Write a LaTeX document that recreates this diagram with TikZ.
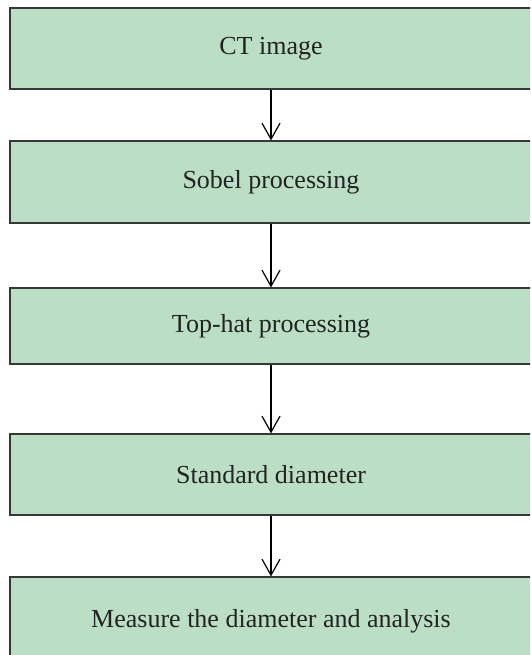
\documentclass[tikz,border=0pt]{standalone}
\usepackage{fontspec}
\setmainfont{Liberation Serif}
\usetikzlibrary{arrows.meta}
\definecolor{boxgreen}{RGB}{186,223,197}
\definecolor{boxline}{RGB}{55,55,55}
\definecolor{textgray}{RGB}{35,35,35}

\begin{document}
\begin{tikzpicture}[x=1pt,y=1pt,
        stepbox/.style={shape=rectangle,draw=boxline,fill=boxgreen,line width=1.2pt,
            minimum width=522pt,inner sep=0pt,text=textgray,font=\fontsize{26}{30}\selectfont},
        flow/.style={-{Straight Barb[length=16pt,width=18pt]},line width=1.2pt,black}]
        \clip (0,0) rectangle (530,-655);

        \node[stepbox,minimum height=81pt] (ct)      at (271,-48.5) {CT image};
        \node[stepbox,minimum height=82pt] (sobel)   at (271,-182)  {Sobel processing};
        \node[stepbox,minimum height=76pt] (tophat)  at (271,-326)  {Top-hat processing};
        \node[stepbox,minimum height=81pt] (stddia)  at (271,-474.5) {Standard diameter};
        \node[stepbox,minimum height=88pt] (measure) at (271,-621) {Measure the diameter and analysis};

        \path [flow](ct) edge (sobel);
        \path [flow](sobel) edge (tophat);
        \path [flow](tophat) edge (stddia);
        \path [flow](stddia) edge (measure);
    \end{tikzpicture}
\end{document}
